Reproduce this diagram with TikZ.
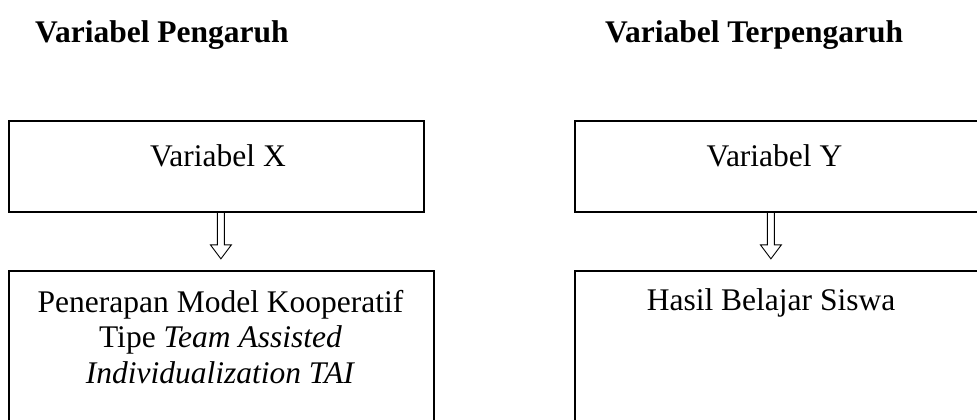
\documentclass[tikz,border=0pt]{standalone}
\usepackage{fontspec}
\setmainfont{Liberation Serif}
\usepackage{tikz}
\usetikzlibrary{positioning}

\begin{document}
\begin{tikzpicture}
  [x=1pt,y=-1pt,
   kotak/.style={rectangle,draw=black,line width=1.8pt,inner sep=0pt,anchor=north west},
   teks/.style={font=\fontsize{31.5}{35.5}\selectfont,inner sep=0pt,align=center},
   judul/.style={font=\fontsize{31.5}{35.5}\selectfont\bfseries,inner sep=0pt,anchor=base west},
   panah/.style={draw=black,line width=0.9pt,line join=miter}]
  \useasboundingbox (0,0) rectangle (977,420);

  % judul kolom
  \node[judul](jdlX) at (35,42.5) {Variabel Pengaruh};
  \node[judul](jdlY) at (605,42.5) {Variabel Terpengaruh};

  % kotak atas
  \node[kotak,minimum width=415pt,minimum height=91pt](boxX) at (8,120) {};
  \node[kotak,minimum width=404pt,minimum height=91pt](boxY) at (574,120) {};
  \node[teks,anchor=base](tksX) at (218,166.5) {Variabel X};
  \node[teks,anchor=base](tksY) at (774.5,166.5) {Variabel Y};

  % kotak bawah
  \node[kotak,minimum width=425pt,minimum height=153pt](boxX2) at (8,270) {};
  \node[kotak,minimum width=404pt,minimum height=153pt](boxY2) at (574,270) {};
  \node[teks,anchor=north](tksX2) at (220.5,290)
    {Penerapan Model Kooperatif\\Tipe \textit{Team Assisted}\\\textit{Individualization TAI}};
  \node[teks,anchor=base](tksY2) at (771,310) {Hasil Belajar Siswa};

  % panah
  \path (boxX.south) ++(4.5,0) coordinate (pX);
  \path (boxY.south) ++(-6,0) coordinate (pY);
  \draw[panah] (pX) ++(-3.5,0) -- ++(0,32) -- ++(-7,0) -- ++(10.5,14)
    -- ++(10.5,-14) -- ++(-7,0) -- ++(0,-32);
  \draw[panah] (pY) ++(-3.5,0) -- ++(0,32) -- ++(-7,0) -- ++(10.5,14)
    -- ++(10.5,-14) -- ++(-7,0) -- ++(0,-32);
\end{tikzpicture}
\end{document}
